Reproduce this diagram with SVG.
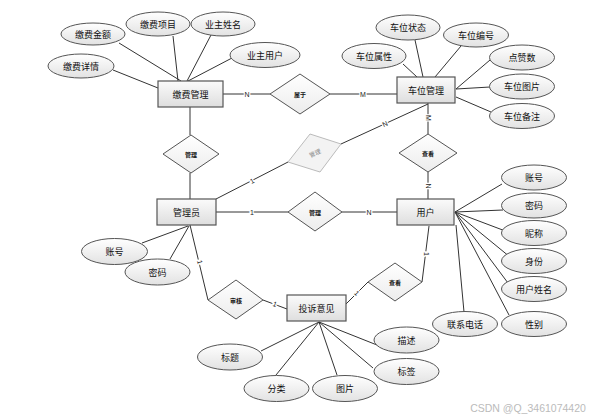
<svg xmlns="http://www.w3.org/2000/svg" width="601" height="419" viewBox="0 0 601 419">
<defs>
<linearGradient id="ge" x1="0" y1="0" x2="0" y2="1"><stop offset="0" stop-color="#ffffff"/><stop offset="1" stop-color="#e2e2e2"/></linearGradient>
<linearGradient id="gr" x1="0" y1="0" x2="0" y2="1"><stop offset="0" stop-color="#fbfbfb"/><stop offset="1" stop-color="#dedede"/></linearGradient>
<linearGradient id="gd" x1="0" y1="0" x2="0" y2="1"><stop offset="0" stop-color="#ffffff"/><stop offset="1" stop-color="#ececec"/></linearGradient>
</defs>
<style>
text{font-family:"Noto Sans CJK SC","Liberation Sans",sans-serif;text-anchor:middle;dominant-baseline:central;fill:#111}
.e ellipse{fill:url(#ge);stroke:#555;stroke-width:1}
.r rect{fill:url(#gr);stroke:#555;stroke-width:1.2}
.d polygon{fill:url(#gd);stroke:#555;stroke-width:1}
.e text,.r text{font-size:9px}
.d text{font-size:6px;font-weight:bold}
#conn line,#conn polyline{stroke:#333;stroke-width:1;fill:none}
.lb{font-family:"Liberation Sans",sans-serif;font-size:7px;fill:#222;stroke:#fff;stroke-width:2.5;paint-order:stroke}
</style>
<rect width="601" height="419" fill="#fff"/>
<g id="conn">
<line x1="119" y1="43" x2="181" y2="81"/>
<line x1="173" y1="36" x2="178" y2="81"/>
<line x1="211" y1="35" x2="187" y2="81"/>
<line x1="232" y1="58" x2="188" y2="81"/>
<line x1="113" y1="70" x2="158" y2="88"/>
<line x1="223" y1="94" x2="270" y2="94"/>
<line x1="330" y1="94" x2="397" y2="94"/>
<line x1="415" y1="40" x2="423" y2="77"/>
<line x1="461" y1="46" x2="435" y2="77"/>
<line x1="403" y1="64" x2="417" y2="77"/>
<line x1="490" y1="60" x2="456" y2="89"/>
<line x1="490" y1="87" x2="456" y2="89"/>
<line x1="491" y1="112" x2="456" y2="97"/>
<line x1="428" y1="103" x2="428" y2="134"/>
<line x1="428" y1="172" x2="428" y2="199"/>
<line x1="428" y1="104" x2="341" y2="144"/>
<line x1="288" y1="162" x2="216" y2="199"/>
<line x1="190" y1="107" x2="190" y2="135"/>
<line x1="190" y1="173" x2="190" y2="199"/>
<line x1="216" y1="212" x2="288" y2="212"/>
<line x1="342" y1="212" x2="397" y2="212"/>
<line x1="455" y1="212" x2="502" y2="184"/>
<line x1="455" y1="212" x2="503" y2="210"/>
<line x1="455" y1="212" x2="508" y2="232"/>
<line x1="455" y1="212" x2="510" y2="257"/>
<line x1="455" y1="212" x2="508" y2="283"/>
<line x1="455" y1="212" x2="509" y2="315"/>
<line x1="456" y1="225" x2="464" y2="312"/>
<line x1="429" y1="226" x2="422" y2="282"/>
<line x1="368" y1="282" x2="346" y2="304"/>
<line x1="190" y1="225" x2="208" y2="300"/>
<line x1="263" y1="300" x2="287" y2="309"/>
<line x1="142" y1="243" x2="188" y2="226"/>
<line x1="170" y1="259" x2="189" y2="226"/>
<line x1="319" y1="322" x2="261" y2="351"/>
<line x1="319" y1="322" x2="276" y2="375"/>
<line x1="319" y1="322" x2="337" y2="375"/>
<line x1="319" y1="322" x2="377" y2="345"/>
<line x1="319" y1="322" x2="373" y2="368"/>
<text class="lb" x="247" y="94">N</text>
<text class="lb" x="363" y="94">M</text>
<text class="lb" x="428" y="118" transform="rotate(90 428 118)">M</text>
<text class="lb" x="428" y="186" transform="rotate(90 428 186)">N</text>
<text class="lb" x="385" y="124" transform="rotate(-25 385 124)">N</text>
<text class="lb" x="252" y="181" transform="rotate(-27 252 181)">1</text>
<text class="lb" x="252" y="212">1</text>
<text class="lb" x="369" y="212">N</text>
<text class="lb" x="426" y="254" transform="rotate(90 426 254)">1</text>
<text class="lb" x="357" y="293" transform="rotate(45 357 293)">1</text>
<text class="lb" x="200" y="262" transform="rotate(76 200 262)">1</text>
<text class="lb" x="275" y="304" transform="rotate(20 275 304)">1</text>
</g>
<g id="n_jfgl" class="r"><rect x="158" y="81" width="65" height="26"/><text x="190.5" y="94">缴费管理</text></g>
<g id="n_cwgl" class="r"><rect x="397" y="77" width="58" height="26"/><text x="426" y="90">车位管理</text></g>
<g id="n_gly" class="r"><rect x="157" y="199" width="59" height="26"/><text x="186.5" y="212">管理员</text></g>
<g id="n_yh" class="r"><rect x="397" y="199" width="57" height="26"/><text x="425.5" y="212">用户</text></g>
<g id="n_tsyj" class="r"><rect x="287" y="295" width="59" height="26"/><text x="316.5" y="308">投诉意见</text></g>
<g id="d_sy" class="d"><polygon points="270,94 300,74 330,94 300,114"/><text x="300" y="94">属于</text></g>
<g id="d_gl1" class="d"><polygon points="163,154 191,135 219,154 191,173"/><text x="191" y="154">管理</text></g>
<g id="d_gl2"><polygon points="310,134 341,144 320,172 288,162" fill="#f3f3f3" stroke="#bbb" stroke-width="1"/><text x="315" y="153" transform="rotate(-25 315 153)" style="font-size:6px;fill:#888">管理</text></g>
<g id="d_ck1" class="d"><polygon points="399,153 428,134 457,153 428,172"/><text x="428" y="153">查看</text></g>
<g id="d_gl3" class="d"><polygon points="288,212 315,192 342,212 315,231"/><text x="315" y="212">管理</text></g>
<g id="d_ck2" class="d"><polygon points="368,282 395,263 422,282 395,301"/><text x="395" y="282">查看</text></g>
<g id="d_sh" class="d"><polygon points="208,300 236,280 263,300 236,319"/><text x="236" y="300">审核</text></g>
<g id="a_jfje" class="e"><ellipse cx="93" cy="34" rx="32" ry="11"/><text x="93" y="34">缴费金额</text></g>
<g id="a_jfxm" class="e"><ellipse cx="158" cy="24" rx="32" ry="12"/><text x="158" y="24">缴费项目</text></g>
<g id="a_yzxm" class="e"><ellipse cx="223" cy="24" rx="32" ry="12"/><text x="223" y="24">业主姓名</text></g>
<g id="a_yzyh" class="e"><ellipse cx="265" cy="55" rx="35" ry="12.5"/><text x="265" y="55">业主用户</text></g>
<g id="a_jfxq" class="e"><ellipse cx="81" cy="66" rx="33" ry="12"/><text x="81" y="66">缴费详情</text></g>
<g id="a_cwzt" class="e"><ellipse cx="408" cy="27.5" rx="32" ry="12.5"/><text x="408" y="27.5">车位状态</text></g>
<g id="a_cwbh" class="e"><ellipse cx="476" cy="35" rx="32.5" ry="12"/><text x="476" y="35">车位编号</text></g>
<g id="a_cwsx" class="e"><ellipse cx="374" cy="56" rx="32" ry="12.5"/><text x="374" y="56">车位属性</text></g>
<g id="a_dzs" class="e"><ellipse cx="522" cy="57.5" rx="32.5" ry="12.5"/><text x="522" y="57.5">点赞数</text></g>
<g id="a_cwtp" class="e"><ellipse cx="522" cy="86.5" rx="32.5" ry="12.5"/><text x="522" y="86.5">车位图片</text></g>
<g id="a_cwbz" class="e"><ellipse cx="522" cy="116" rx="32.5" ry="12.5"/><text x="522" y="116">车位备注</text></g>
<g id="a_yh_zh" class="e"><ellipse cx="534" cy="177.5" rx="32.5" ry="12.5"/><text x="534" y="177.5">账号</text></g>
<g id="a_yh_mm" class="e"><ellipse cx="534" cy="205.5" rx="32.5" ry="12.5"/><text x="534" y="205.5">密码</text></g>
<g id="a_nc" class="e"><ellipse cx="534" cy="233" rx="32.5" ry="12.5"/><text x="534" y="233">昵称</text></g>
<g id="a_sf" class="e"><ellipse cx="534" cy="261" rx="32.5" ry="12.5"/><text x="534" y="261">身份</text></g>
<g id="a_yhxm" class="e"><ellipse cx="534" cy="289" rx="32.5" ry="12.5"/><text x="534" y="289">用户姓名</text></g>
<g id="a_xb" class="e"><ellipse cx="534" cy="324" rx="32.5" ry="12.5"/><text x="534" y="324">性别</text></g>
<g id="a_lxdh" class="e"><ellipse cx="465" cy="324" rx="32.5" ry="12.5"/><text x="465" y="324">联系电话</text></g>
<g id="a_gly_zh" class="e"><ellipse cx="114.5" cy="251.5" rx="33" ry="13"/><text x="114.5" y="251.5">账号</text></g>
<g id="a_gly_mm" class="e"><ellipse cx="157.5" cy="272" rx="32.5" ry="13"/><text x="157.5" y="272">密码</text></g>
<g id="a_bt" class="e"><ellipse cx="230" cy="357" rx="32.5" ry="13"/><text x="230" y="357">标题</text></g>
<g id="a_fl" class="e"><ellipse cx="276.5" cy="388.5" rx="32.5" ry="13"/><text x="276.5" y="388.5">分类</text></g>
<g id="a_tp" class="e"><ellipse cx="345" cy="388.5" rx="32.5" ry="13"/><text x="345" y="388.5">图片</text></g>
<g id="a_ms" class="e"><ellipse cx="406.5" cy="340" rx="32.5" ry="13"/><text x="406.5" y="340">描述</text></g>
<g id="a_bq" class="e"><ellipse cx="406.5" cy="371.5" rx="32.5" ry="13"/><text x="406.5" y="371.5">标签</text></g>
<text x="528" y="407.5" style="font-family:'Liberation Sans',sans-serif;font-size:10.5px;fill:#bbb">CSDN @Q_3461074420</text>
</svg>
